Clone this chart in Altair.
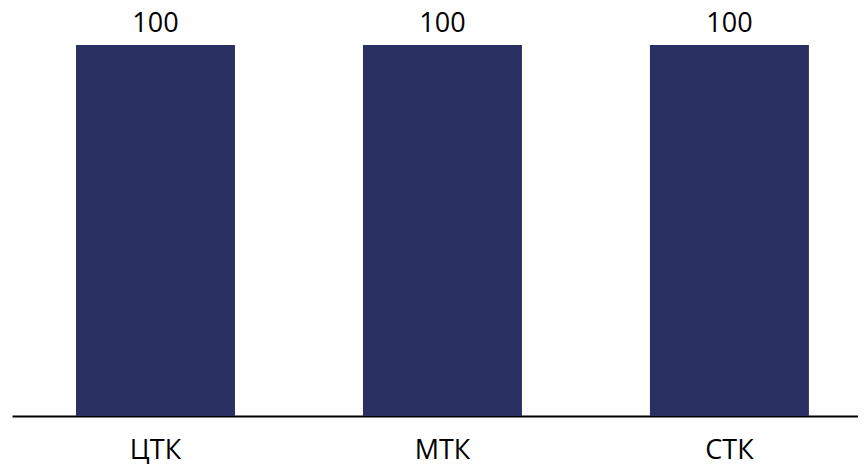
import altair as alt
import pandas as pd

categories = ["ЦТК", "МТК", "СТК"]
values = [100, 100, 100]

df = pd.DataFrame({"cat": categories, "val": values})

FONT = "Open Sans"

x = alt.X(
    "cat:N",
    sort=categories,
    scale=alt.Scale(paddingInner=0.446, paddingOuter=0.197, align=0.566),
    axis=alt.Axis(
        title=None,
        ticks=False,
        labelAngle=0,
        labelFont=FONT,
        labelFontSize=27,
        labelColor="#000000",
        labelPadding=21,
        domainColor="#000000",
        domainWidth=2,
    ),
)
y = alt.Y("val:Q", scale=alt.Scale(domain=[0, 100]), axis=None)

bars = alt.Chart(df).mark_bar(color="#2b3063").encode(x=x, y=y)
labels = alt.Chart(df).mark_text(
    baseline="alphabetic", dy=-13, font=FONT, fontSize=27, color="#000000"
).encode(x=x, y=y, text="val:Q")

chart = (
    alt.layer(bars, labels)
    .properties(
        width=846,
        height=371,
        autosize=alt.AutoSizeParams(type="none"),
        padding={"left": 4, "top": 37, "right": 0, "bottom": 56},
    )
    .configure(background="#ffffff", view=alt.ViewConfig(stroke=None))
)

chart.save("out.html", embed_options={"renderer": "svg", "actions": False})
